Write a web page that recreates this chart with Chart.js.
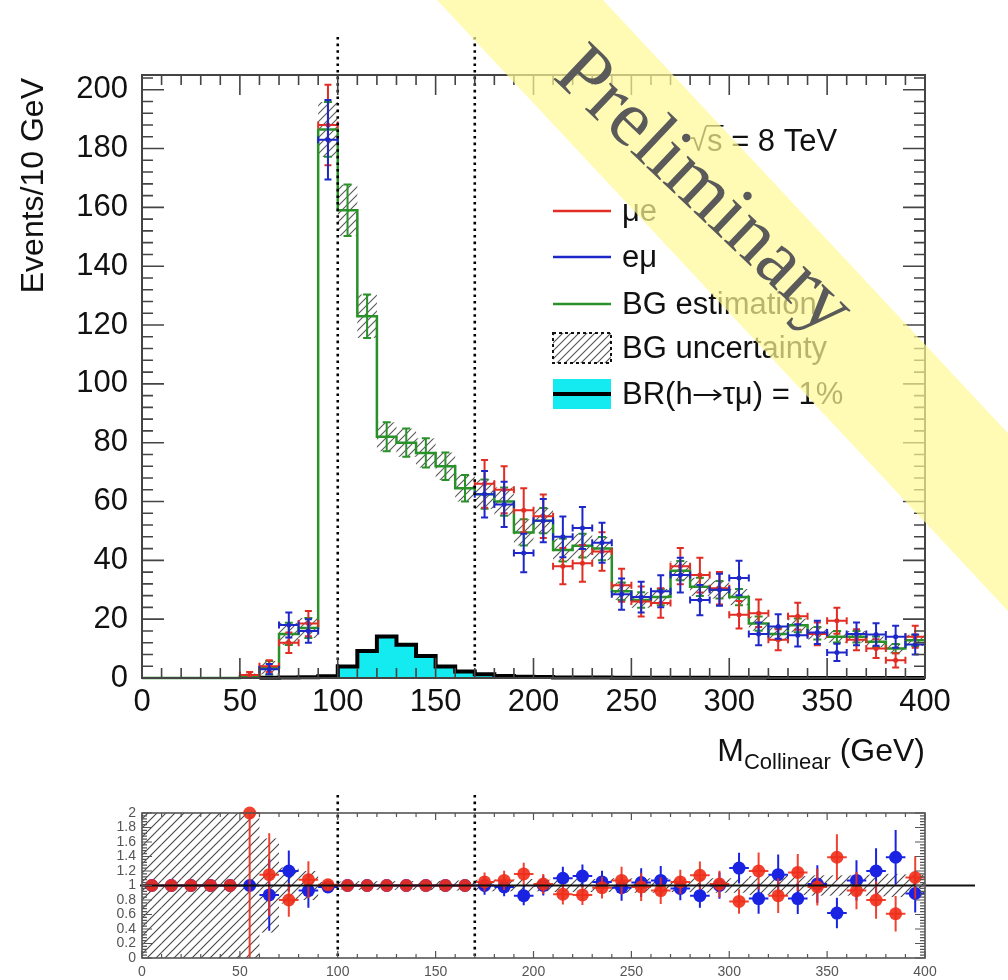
<!DOCTYPE html>
<html>
<head>
<meta charset="utf-8">
<script src="https://cdn.jsdelivr.net/npm/chart.js@4.4.1/dist/chart.umd.min.js"></script>
<style>
  html, body { margin: 0; padding: 0; background: #fff; }
  #wrap { position: relative; width: 1008px; height: 980px; overflow: hidden; }
  canvas { position: absolute; left: 0; }
  #main { top: 0; }
  #ratio { top: 790px; }
</style>
</head>
<body>
<div id="wrap">
  <canvas id="main" width="1008" height="790"></canvas>
  <canvas id="ratio" width="1008" height="190"></canvas>
</div>
<script>
// 10 GeV bins, 0-400 GeV
const binCenters = [5, 15, 25, 35, 45, 55, 65, 75, 85, 95,
  105, 115, 125, 135, 145, 155, 165, 175, 185, 195,
  205, 215, 225, 235, 245, 255, 265, 275, 285, 295,
  305, 315, 325, 335, 345, 355, 365, 375, 385, 395];
const binHalfWidth = 5;

// background estimate and its relative uncertainty
const bgEstimate = [0, 0, 0, 0, 0, 0.5, 3.5, 15, 17, 186.5,
  159, 123, 82, 80, 76.5, 72, 64.5, 62.5, 60, 49.5,
  53.5, 43.5, 45, 44, 29.5, 26.5, 27.5, 36.5, 31, 30,
  27.5, 18.5, 15, 17.9, 15.2, 14, 14, 12.3, 10, 12.8];
const bgRelUnc = [2, 2, 2, 2, 2, 2, 0.65, 0.25, 0.2, 0.05,
  0.055, 0.06, 0.06, 0.06, 0.065, 0.065, 0.07, 0.08, 0.08, 0.09,
  0.08, 0.09, 0.09, 0.09, 0.1, 0.1, 0.1, 0.09, 0.1, 0.1,
  0.1, 0.13, 0.14, 0.13, 0.14, 0.14, 0.14, 0.15, 0.16, 0.15];

// signal for BR(h->tau mu) = 1%
const signalBR1 = [null, null, null, null, null, null, 0.1, 0.15, 0.25, 0.6,
  3.9, 9.2, 14.1, 11.3, 7.5, 3.9, 2.2, 1.3, 0.7, 0.4,
  0.3, 0.2, 0.2, 0.15, 0.1, 0.1, 0.1, 0.05, 0.05, 0.05,
  0.05, 0.05, 0, 0, 0, 0, 0, 0, 0, 0];

// observed events, 100-170 GeV blinded
const dataMuE = [null, null, null, null, null, 1, 4, 12, 18.5, 188,
  null, null, null, null, null, null, null, 66, 64, 57,
  55, 38, 39, 43, 31.5, 26, 25.5, 38, 35, 30.5,
  21.5, 22, 13, 21, 15, 19.5, 13, 10, 6, 14];
const dataEMu = [null, null, null, null, null, null, 3, 18, 16, 183,
  null, null, null, null, null, null, null, 62.5, 59, 42.5,
  53.5, 48, 51, 46, 28.5, 27.5, 29.5, 35, 26.5, 30,
  34, 15, 17.5, 14.5, 15.5, 8.7, 15, 14.8, 14, 11.4];

// data / background
const ratioMuE = [1, 1, 1, 1, 1, 2.0, 1.15, 0.8, 1.08, 1.01,
  1, 1, 1, 1, 1, 1, 1, 1.05, 1.07, 1.16,
  1.02, 0.88, 0.87, 0.97, 1.07, 0.98, 0.93, 1.05, 1.14, 1.02,
  0.78, 1.2, 0.86, 1.18, 0.98, 1.39, 0.93, 0.8, 0.61, 1.11];
const ratioEMu = [1, 1, 1, 1, 1, 1.0, 0.87, 1.2, 0.93, 0.98,
  1, 1, 1, 1, 1, 1, 1, 1.0, 0.98, 0.86,
  1.0, 1.1, 1.13, 1.05, 0.97, 1.04, 1.07, 0.96, 0.86, 1.0,
  1.24, 0.82, 1.15, 0.82, 1.02, 0.62, 1.07, 1.2, 1.39, 0.89];

const windowEdges = [100, 170];

const FONT = '"Liberation Sans", Arial, Helvetica, sans-serif';
const SERIF = '"Liberation Serif", "Times New Roman", serif';
const RED = 'rgb(225,45,35)';
const BLUE = 'rgb(30,40,200)';
const GREEN = 'rgb(40,145,40)';
const CYAN = 'rgb(20,235,240)';
const R_RED = 'rgba(240,45,25,0.9)';
const R_BLUE = 'rgb(25,35,225)';

Chart.defaults.font.family = FONT;

// step outline: one point per lower bin edge plus the closing edge
function histPoints(values) {
  const pts = [];
  let last = null;
  values.forEach((v, i) => {
    if (v === null) return;
    pts.push({ x: binCenters[i] - binHalfWidth, y: v });
    last = { x: binCenters[i] + binHalfWidth, y: v };
  });
  if (last) pts.push(last);
  return pts;
}

function markerPoints(values) {
  const pts = [];
  values.forEach((v, i) => { if (v !== null) pts.push({ x: binCenters[i], y: v }); });
  return pts;
}

function makeHatch(ctx, color, size) {
  const c = document.createElement('canvas');
  c.width = size; c.height = size;
  const g = c.getContext('2d');
  g.strokeStyle = color;
  g.lineWidth = 1.1;
  g.beginPath();
  g.moveTo(0, size); g.lineTo(size, 0);
  g.moveTo(-2, 2); g.lineTo(2, -2);
  g.moveTo(size - 2, size + 2); g.lineTo(size + 2, size - 2);
  g.stroke();
  return ctx.createPattern(c, 'repeat');
}

function drawFrameTicks(chart, o) {
  const { ctx, chartArea: a, scales: { x, y } } = chart;
  ctx.save();
  ctx.strokeStyle = o.color;
  ctx.lineWidth = o.width;
  ctx.beginPath();
  const nx = Math.round((x.max - x.min) / o.xMinor);
  for (let k = 0; k <= nx; k++) {
    const v = x.min + k * o.xMinor;
    const len = (k % o.xPer === 0) ? o.xMajorLen : o.xMinorLen;
    const px = x.getPixelForValue(v);
    ctx.moveTo(px, a.bottom); ctx.lineTo(px, a.bottom - len);
    ctx.moveTo(px, a.top); ctx.lineTo(px, a.top + len);
  }
  const ny = Math.floor((y.max - y.min) / o.yMinor + 1e-6);
  for (let k = 0; k <= ny; k++) {
    const v = y.min + k * o.yMinor;
    const len = (k % o.yPer === 0) ? o.yMajorLen : o.yMinorLen;
    const py = y.getPixelForValue(v);
    ctx.moveTo(a.left, py); ctx.lineTo(a.left + len, py);
    ctx.moveTo(a.right, py); ctx.lineTo(a.right - len, py);
  }
  ctx.stroke();
  ctx.lineWidth = o.frameWidth;
  ctx.strokeRect(a.left, a.top, a.right - a.left, a.bottom - a.top);
  ctx.restore();
}

function drawWindowLines(chart, top) {
  const { ctx, chartArea: a, scales: { x } } = chart;
  ctx.save();
  ctx.strokeStyle = '#000';
  ctx.lineWidth = 2.6;
  ctx.setLineDash([2.6, 4]);
  windowEdges.forEach(v => {
    const px = x.getPixelForValue(v);
    ctx.beginPath();
    ctx.moveTo(px, top);
    ctx.lineTo(px, a.bottom);
    ctx.stroke();
  });
  ctx.restore();
}

// text with a drawn long right arrow in place of "->"
function fillArrowText(ctx, parts, x, y) {
  const arrowLen = 30;
  parts.forEach((p, i) => {
    ctx.fillText(p, x, y);
    x += ctx.measureText(p).width;
    if (i < parts.length - 1) {
      const ay = y;
      ctx.save();
      ctx.strokeStyle = ctx.fillStyle;
      ctx.lineWidth = 1.8;
      ctx.beginPath();
      ctx.moveTo(x + 1, ay); ctx.lineTo(x + arrowLen - 2, ay);
      ctx.moveTo(x + arrowLen - 9, ay - 5); ctx.lineTo(x + arrowLen - 2, ay); ctx.lineTo(x + arrowLen - 9, ay + 5);
      ctx.stroke();
      ctx.restore();
      x += arrowLen;
    }
  });
}

// ---------- upper panel ----------
const mainDecor = {
  id: 'mainDecor',
  beforeDatasetsDraw(chart) {
    const { ctx, scales: { x, y } } = chart;
    ctx.save();
    ctx.fillStyle = makeHatch(ctx, 'rgba(60,60,60,0.85)', 8);
    bgEstimate.forEach((b, i) => {
      if (b <= 0) return;
      const lo = Math.max(0, b * (1 - bgRelUnc[i]));
      const hi = b * (1 + bgRelUnc[i]);
      const xl = x.getPixelForValue(binCenters[i] - binHalfWidth);
      const xr = x.getPixelForValue(binCenters[i] + binHalfWidth);
      const yt = y.getPixelForValue(hi), yb = y.getPixelForValue(lo);
      ctx.fillRect(xl, yt, xr - xl, yb - yt);
    });
    ctx.restore();
  },
  afterDatasetDraw(chart, args) {
    const ds = chart.data.datasets[args.index];
    const { ctx, scales: { x, y } } = chart;
    if (ds.kind === 'bg') {
      ctx.save();
      ctx.strokeStyle = GREEN;
      ctx.lineWidth = 2;
      ctx.beginPath();
      bgEstimate.forEach((b, i) => {
        if (b < 1) return;
        const e = b * bgRelUnc[i];
        const xc = x.getPixelForValue(binCenters[i]);
        const yt = y.getPixelForValue(b + e), yb = y.getPixelForValue(Math.max(0, b - e));
        ctx.moveTo(xc, yt); ctx.lineTo(xc, yb);
        ctx.moveTo(xc - 4, yt); ctx.lineTo(xc + 4, yt);
        ctx.moveTo(xc - 4, yb); ctx.lineTo(xc + 4, yb);
      });
      ctx.stroke();
      ctx.restore();
    }
    if (ds.kind === 'data') {
      ctx.save();
      ctx.strokeStyle = ds.borderColor;
      ctx.lineWidth = 2;
      ctx.beginPath();
      ds.values.forEach((v, i) => {
        if (v === null) return;
        const e = Math.sqrt(v);
        const xc = x.getPixelForValue(binCenters[i]);
        const xl = x.getPixelForValue(binCenters[i] - binHalfWidth);
        const xr = x.getPixelForValue(binCenters[i] + binHalfWidth);
        const yc = y.getPixelForValue(v);
        const yt = y.getPixelForValue(v + e), yb = y.getPixelForValue(Math.max(0, v - e));
        ctx.moveTo(xl, yc); ctx.lineTo(xr, yc);
        ctx.moveTo(xl, yc - 3.5); ctx.lineTo(xl, yc + 3.5);
        ctx.moveTo(xr, yc - 3.5); ctx.lineTo(xr, yc + 3.5);
        ctx.moveTo(xc, yt); ctx.lineTo(xc, yb);
        ctx.moveTo(xc - 3.5, yt); ctx.lineTo(xc + 3.5, yt);
        ctx.moveTo(xc - 3.5, yb); ctx.lineTo(xc + 3.5, yb);
      });
      ctx.stroke();
      ctx.restore();
    }
  },
  afterDraw(chart) {
    const { ctx, chartArea: a } = chart;
    drawWindowLines(chart, 37);
    drawFrameTicks(chart, {
      color: '#444', width: 1.6, frameWidth: 2,
      xMinor: 10, xPer: 5, xMajorLen: 20, xMinorLen: 10,
      yMinor: 4, yPer: 5, yMajorLen: 22, yMinorLen: 11
    });

    ctx.save();
    ctx.fillStyle = '#111';
    ctx.textBaseline = 'alphabetic';

    // y title
    ctx.save();
    ctx.translate(43, 78);
    ctx.rotate(-Math.PI / 2);
    ctx.font = `32px ${FONT}`;
    ctx.textAlign = 'right';
    ctx.fillText('Events/10 GeV', 0, 0);
    ctx.restore();

    // x title with subscript
    const big = `32px ${FONT}`, sub = `22px ${FONT}`;
    ctx.font = big; const wM = ctx.measureText('M').width; const wG = ctx.measureText(' (GeV)').width;
    ctx.font = sub; const wS = ctx.measureText('Collinear').width;
    let tx = a.right - (wM + wS + wG);
    const base = 761;
    ctx.textAlign = 'left';
    ctx.font = big; ctx.fillText('M', tx, base); tx += wM;
    ctx.font = sub; ctx.fillText('Collinear', tx, base + 8); tx += wS;
    ctx.font = big; ctx.fillText(' (GeV)', tx, base);

    // centre-of-mass energy
    ctx.font = `31px ${FONT}`;
    let sx = 690;
    const sy = 151;
    ctx.fillText('\u221A', sx, sy);
    sx += ctx.measureText('\u221A').width;
    const ws = ctx.measureText('s').width;
    ctx.fillText('s', sx, sy);
    ctx.fillRect(sx - 1, sy - 26, ws + 2, 1.6);
    ctx.fillText(' = 8 TeV', sx + ws, sy);

    // legend
    const rows = [211, 257, 304, 348, 394];
    const lx0 = 553, lx1 = 611, tx0 = 622;
    ctx.font = `31px ${FONT}`;
    ctx.textBaseline = 'middle';
    const labels = ['\u03BCe', 'e\u03BC', 'BG estimation', 'BG uncertainty'];
    labels.forEach((t, i) => ctx.fillText(t, tx0, rows[i] + 1));
    fillArrowText(ctx, ['BR(h', '\u03C4\u03BC) = 1%'], tx0, rows[4] + 1);
    [RED, BLUE, GREEN].forEach((c, i) => {
      ctx.strokeStyle = c; ctx.lineWidth = 2.5;
      ctx.beginPath(); ctx.moveTo(lx0, rows[i]); ctx.lineTo(lx1, rows[i]); ctx.stroke();
    });
    ctx.fillStyle = makeHatch(ctx, '#555', 8);
    ctx.fillRect(lx0, rows[3] - 15, lx1 - lx0, 30);
    ctx.strokeStyle = '#111'; ctx.lineWidth = 2; ctx.setLineDash([3, 3]);
    ctx.strokeRect(lx0, rows[3] - 15, lx1 - lx0, 30);
    ctx.setLineDash([]);
    ctx.fillStyle = CYAN;
    ctx.fillRect(lx0, rows[4] - 15, lx1 - lx0, 30);
    ctx.strokeStyle = '#000'; ctx.lineWidth = 4;
    ctx.beginPath(); ctx.moveTo(lx0, rows[4]); ctx.lineTo(lx1, rows[4]); ctx.stroke();
    ctx.restore();

    // diagonal stamp
    ctx.save();
    ctx.fillStyle = 'rgba(255,250,150,0.7)';
    ctx.beginPath();
    ctx.moveTo(437, 0); ctx.lineTo(603, 0);
    ctx.lineTo(1008, (1008 - 603) * 1.07);
    ctx.lineTo(1008, (1008 - 437) * 1.07);
    ctx.closePath();
    ctx.fill();
    ctx.translate(703, 192);
    ctx.rotate(43.5 * Math.PI / 180);
    ctx.font = `80px ${SERIF}`;
    ctx.fillStyle = '#5a5a5a';
    ctx.textAlign = 'center';
    ctx.textBaseline = 'middle';
    ctx.fillText('Preliminary', 0, 0);
    ctx.restore();
  }
};

new Chart(document.getElementById('main'), {
  type: 'line',
  data: {
    datasets: [
      { kind: 'data', label: 'e\u03BC', values: dataEMu, data: markerPoints(dataEMu), showLine: false,
        borderColor: BLUE, backgroundColor: BLUE, pointRadius: 2.5, pointBorderWidth: 0, order: 0 },
      { kind: 'data', label: '\u03BCe', values: dataMuE, data: markerPoints(dataMuE), showLine: false,
        borderColor: RED, backgroundColor: RED, pointRadius: 2.5, pointBorderWidth: 0, order: 1 },
      { kind: 'signal', label: 'BR(h\u2192\u03C4\u03BC) = 1%', data: histPoints(signalBR1), stepped: true,
        borderColor: '#000', borderWidth: 4, backgroundColor: CYAN, fill: 'origin',
        pointRadius: 0, clip: 6, order: 2 },
      { kind: 'bg', label: 'BG estimation', data: histPoints(bgEstimate), stepped: true,
        borderColor: GREEN, borderWidth: 2.5, fill: false, pointRadius: 0, clip: 4, order: 3 }
    ]
  },
  options: {
    responsive: false,
    animation: false,
    devicePixelRatio: 1,
    layout: { padding: { left: 0, right: 83, top: 75, bottom: 0 } },
    plugins: { legend: { display: false }, tooltip: { enabled: false } },
    scales: {
      x: {
        type: 'linear', min: 0, max: 400,
        grid: { display: false, drawTicks: false }, border: { display: false },
        ticks: { stepSize: 50, includeBounds: false, autoSkip: false, maxRotation: 0,
          padding: 6, color: '#111', font: { size: 31 } },
        afterFit: s => { s.height = 112; }
      },
      y: {
        min: 0, max: 205,
        grid: { display: false, drawTicks: false }, border: { display: false },
        ticks: { stepSize: 20, includeBounds: false, autoSkip: false, padding: 14, color: '#111', font: { size: 31 } },
        afterFit: s => { s.width = 142; }
      }
    }
  },
  plugins: [mainDecor]
});

// ---------- ratio panel ----------
const ratioDecor = {
  id: 'ratioDecor',
  beforeDatasetsDraw(chart) {
    const { ctx, scales: { x, y } } = chart;
    ctx.save();
    ctx.fillStyle = makeHatch(ctx, 'rgba(50,50,50,0.9)', 9);
    bgRelUnc.forEach((r, i) => {
      const lo = Math.max(0, 1 - r), hi = Math.min(2, 1 + r);
      const xl = x.getPixelForValue(binCenters[i] - binHalfWidth);
      const xr = x.getPixelForValue(binCenters[i] + binHalfWidth);
      const yt = y.getPixelForValue(hi), yb = y.getPixelForValue(lo);
      ctx.fillRect(xl, yt, xr - xl, yb - yt);
    });
    ctx.restore();
  },
  beforeDatasetDraw(chart, args) {
    const ds = chart.data.datasets[args.index];
    const { ctx, chartArea: a, scales: { x, y } } = chart;
    ctx.save();
    ctx.strokeStyle = ds.borderColor;
    ctx.lineWidth = 2;
    ctx.beginPath();
    ds.values.forEach((rv, i) => {
      const xl = x.getPixelForValue(binCenters[i] - binHalfWidth);
      const xr = x.getPixelForValue(binCenters[i] + binHalfWidth);
      const yc = y.getPixelForValue(rv);
      ctx.moveTo(xl, yc); ctx.lineTo(xr, yc);
      const n = ds.counts[i];
      if (n === null || bgEstimate[i] <= 0) return;
      const e = Math.sqrt(n) / bgEstimate[i];
      const xc = x.getPixelForValue(binCenters[i]);
      ctx.moveTo(xc, Math.max(a.top, y.getPixelForValue(rv + e)));
      ctx.lineTo(xc, Math.min(a.bottom, y.getPixelForValue(Math.max(0, rv - e))));
    });
    ctx.stroke();
    ctx.restore();
  },
  afterDatasetsDraw(chart) {
    const { ctx, chartArea: a, scales: { y } } = chart;
    ctx.save();
    ctx.strokeStyle = '#111';
    ctx.lineWidth = 2;
    ctx.beginPath();
    ctx.moveTo(a.left - 2, y.getPixelForValue(1));
    ctx.lineTo(975, y.getPixelForValue(1));
    ctx.stroke();
    ctx.restore();
  },
  afterDraw(chart) {
    drawWindowLines(chart, 5);
    drawFrameTicks(chart, {
      color: '#555', width: 1.2, frameWidth: 1.6,
      xMinor: 10, xPer: 5, xMajorLen: 7, xMinorLen: 4,
      yMinor: 0.04, yPer: 5, yMajorLen: 10, yMinorLen: 5
    });
  }
};

new Chart(document.getElementById('ratio'), {
  type: 'line',
  data: {
    datasets: [
      { label: '\u03BCe', values: ratioMuE, counts: dataMuE, data: markerPoints(ratioMuE), showLine: false,
        borderColor: R_RED, backgroundColor: R_RED, pointRadius: 6.5, pointBorderWidth: 0, clip: 8, order: 0 },
      { label: 'e\u03BC', values: ratioEMu, counts: dataEMu, data: markerPoints(ratioEMu), showLine: false,
        borderColor: R_BLUE, backgroundColor: R_BLUE, pointRadius: 6.5, pointBorderWidth: 0, clip: 8, order: 1 }
    ]
  },
  options: {
    responsive: false,
    animation: false,
    devicePixelRatio: 1,
    layout: { padding: { left: 0, right: 83, top: 23, bottom: 0 } },
    plugins: { legend: { display: false }, tooltip: { enabled: false } },
    scales: {
      x: {
        type: 'linear', min: 0, max: 400,
        grid: { display: false, drawTicks: false }, border: { display: false },
        ticks: { stepSize: 50, includeBounds: false, autoSkip: false, maxRotation: 0,
          padding: 6, color: '#555', font: { size: 14 } },
        afterFit: s => { s.height = 22; }
      },
      y: {
        min: 0, max: 2,
        grid: { display: false, drawTicks: false }, border: { display: false },
        ticks: { stepSize: 0.2, includeBounds: false, autoSkip: false, padding: 6, color: '#555',
          font: { size: 14 }, callback: v => String(Math.round(v * 10) / 10) },
        afterFit: s => { s.width = 142; }
      }
    }
  },
  plugins: [ratioDecor]
});
</script>
</body>
</html>
